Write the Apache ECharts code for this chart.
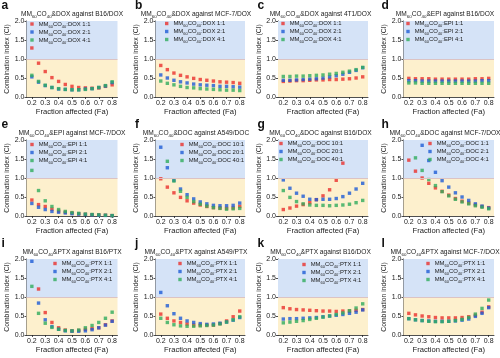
<!DOCTYPE html>
<html><head><meta charset="utf-8">
<script src="https://cdn.jsdelivr.net/npm/echarts@6/dist/echarts.min.js"></script>
<style>html,body{margin:0;padding:0;background:#fff}#c{width:500px;height:358px}</style>
</head><body><div id="c"></div>
<script>
// ---------- data ----------
const fa = [0.2, 0.25, 0.3, 0.35, 0.4, 0.45, 0.5, 0.55, 0.6, 0.65, 0.7, 0.75, 0.8];
const xTickValues = [0.2, 0.3, 0.4, 0.5, 0.6, 0.7, 0.8];
const panelLetters = ['a','b','c','d','e','f','g','h','i','j','k','l'];
const partnerDrugs = ['DOX','DOX','DOX','EPI','EPI','DOC','DOC','DOC','PTX','PTX','PTX','PTX'];
const targetCells = ['B16/DOX','MCF-7/DOX','4T1/DOX','B16/DOX','MCF-7/DOX','A549/DOC','B16/DOX','MCF-7/DOX','B16/PTX','A549/PTX','B16/DOX','MCF-7/DOX'];
const ratiosStd = ['1:1','2:1','4:1'];
const ratiosDoc = ['10:1','20:1','40:1'];

const ciA1 = [1.29, 0.89, 0.67, 0.51, 0.41, 0.33, 0.28, 0.25, 0.24, 0.23, 0.24, 0.28, 0.32];
const ciA2 = [0.53, 0.39, 0.30, 0.25, 0.21, 0.20, 0.19, 0.19, 0.21, 0.22, 0.25, 0.29, 0.38];
const ciA3 = [0.57, 0.41, 0.31, 0.25, 0.22, 0.20, 0.19, 0.19, 0.20, 0.22, 0.25, 0.30, 0.40];

const ciB1 = [0.83, 0.72, 0.63, 0.57, 0.53, 0.49, 0.46, 0.44, 0.42, 0.40, 0.39, 0.38, 0.36];
const ciB2 = [0.58, 0.50, 0.44, 0.40, 0.37, 0.34, 0.32, 0.31, 0.30, 0.28, 0.28, 0.27, 0.26];
const ciB3 = [0.42, 0.36, 0.32, 0.28, 0.25, 0.24, 0.22, 0.21, 0.20, 0.19, 0.18, 0.18, 0.17];

const ciC1 = [0.41, 0.42, 0.43, 0.43, 0.44, 0.45, 0.45, 0.46, 0.46, 0.47, 0.48, 0.50, 0.53];
const ciC2 = [0.44, 0.44, 0.45, 0.46, 0.47, 0.48, 0.50, 0.53, 0.56, 0.60, 0.65, 0.70, 0.77];
const ciC3 = [0.54, 0.54, 0.55, 0.55, 0.56, 0.57, 0.58, 0.60, 0.62, 0.65, 0.68, 0.72, 0.78];

const ciD1 = [0.49, 0.48, 0.48, 0.48, 0.47, 0.47, 0.47, 0.47, 0.47, 0.47, 0.48, 0.48, 0.49];
const ciD2 = [0.43, 0.43, 0.42, 0.42, 0.42, 0.42, 0.42, 0.42, 0.42, 0.42, 0.42, 0.43, 0.43];
const ciD3 = [0.37, 0.37, 0.36, 0.36, 0.36, 0.36, 0.36, 0.36, 0.36, 0.36, 0.36, 0.36, 0.36];

const ciE1 = [0.42, 0.30, 0.25, 0.18, 0.13, 0.10, 0.08, 0.06, 0.045, 0.035, 0.03, 0.02, 0.01];
const ciE2 = [0.33, 0.23, 0.17, 0.12, 0.10, 0.08, 0.06, 0.05, 0.04, 0.03, 0.02, 0.015, 0.01];
const ciE3 = [1.20, 0.67, 0.40, 0.25, 0.17, 0.12, 0.09, 0.07, 0.05, 0.04, 0.03, 0.02, 0.01];

const ciF1 = [0.98, 0.76, 0.61, 0.49, 0.40, 0.34, 0.29, 0.25, 0.22, 0.21, 0.20, 0.21, 0.25];
const ciF2 = [1.81, 1.27, 0.94, 0.71, 0.56, 0.45, 0.37, 0.32, 0.28, 0.27, 0.27, 0.28, 0.34];
const ciF3 = [null, 1.44, 0.92, 0.65, 0.49, 0.38, 0.31, 0.26, 0.22, 0.20, 0.18, 0.19, 0.20];

const ciG1 = [0.17, 0.21, 0.26, 0.30, 0.35, 0.43, 0.53, 0.69, 0.94, 1.39, null, null, null];
const ciG2 = [0.95, 0.73, 0.60, 0.52, 0.44, 0.43, 0.44, 0.44, 0.46, 0.51, 0.60, 0.71, 0.86];
const ciG3 = [0.67, 0.49, 0.38, 0.32, 0.29, 0.28, 0.28, 0.27, 0.28, 0.29, 0.31, 0.35, 0.41];

const ciH1 = [1.47, 1.18, 1.00, 0.86, 0.74, 0.65, 0.55, 0.46, 0.39, 0.34, 0.29, 0.25, 0.22];
const ciH2 = [null, null, 1.86, 1.46, 1.15, 0.93, 0.76, 0.61, 0.50, 0.41, 0.32, 0.26, 0.21];
const ciH3 = [null, 1.53, 1.20, 0.96, 0.80, 0.64, 0.53, 0.44, 0.37, 0.32, 0.27, 0.23, 0.19];

const ciI1 = [null, 1.21, 0.59, 0.33, 0.19, 0.13, 0.11, 0.12, 0.15, 0.17, 0.19, 0.27, 0.37];
const ciI2 = [1.94, 0.84, 0.40, 0.22, 0.15, 0.11, 0.10, 0.10, 0.11, 0.14, 0.19, 0.26, 0.36];
const ciI3 = [1.28, 0.57, 0.31, 0.20, 0.15, 0.12, 0.11, 0.13, 0.19, 0.25, 0.33, 0.44, 0.60];

const ciJ1 = [0.55, 0.44, 0.37, 0.33, 0.29, 0.26, 0.26, 0.26, 0.26, 0.30, 0.37, 0.48, 0.63];
const ciJ2 = [1.12, 0.77, 0.56, 0.44, 0.37, 0.33, 0.30, 0.28, 0.29, 0.31, 0.34, 0.39, 0.46];
const ciJ3 = [0.44, 0.33, 0.27, 0.24, 0.23, 0.23, 0.24, 0.25, 0.26, 0.29, 0.34, 0.40, 0.48];

const ciK1 = [0.72, 0.69, 0.67, 0.66, 0.65, 0.64, 0.63, 0.63, 0.62, 0.63, 0.63, 0.65, 0.67];
const ciK2 = [0.42, 0.43, 0.43, 0.44, 0.45, 0.46, 0.48, 0.50, 0.52, 0.54, 0.57, 0.60, 0.66];
const ciK3 = [0.32, 0.34, 0.36, 0.38, 0.41, 0.44, 0.47, 0.50, 0.54, 0.58, 0.64, 0.71, 0.82];

const ciL1 = [0.57, 0.53, 0.50, 0.48, 0.46, 0.45, 0.45, 0.45, 0.46, 0.48, 0.52, 0.60, 0.74];
const ciL2 = [0.43, 0.40, 0.38, 0.37, 0.36, 0.36, 0.36, 0.37, 0.39, 0.42, 0.49, 0.57, 0.72];
const ciL3 = [0.43, 0.40, 0.38, 0.36, 0.35, 0.35, 0.36, 0.38, 0.41, 0.46, 0.55, 0.70, 0.92];

const panelSeries = [
  [ciA1, ciA2, ciA3], [ciB1, ciB2, ciB3], [ciC1, ciC2, ciC3], [ciD1, ciD2, ciD3],
  [ciE1, ciE2, ciE3], [ciF1, ciF2, ciF3], [ciG1, ciG2, ciG3], [ciH1, ciH2, ciH3],
  [ciI1, ciI2, ciI3], [ciJ1, ciJ2, ciJ3], [ciK1, ciK2, ciK3], [ciL1, ciL2, ciL3]
];
const panelRatios = [ratiosStd, ratiosStd, ratiosStd, ratiosStd, ratiosStd, ratiosDoc, ratiosDoc, ratiosStd, ratiosStd, ratiosStd, ratiosStd, ratiosStd];

// ---------- layout / style ----------
const FONT = "'Liberation Sans', Arial, Helvetica, sans-serif";
const TXT = '#1a1a1a';
const COLORS = ['#ea2f2c', '#1d5bd6', '#2fab5c'];
const BG_HIGH = '#d5e3f7';
const BG_LOW = '#fdf0cd';
const colLeft = [26.5, 155.5, 278, 403.5];
const colRight = [117.5, 245, 368, 494];
const rowTop = [21, 140, 259];
const plotH = 76;
const yNameGap = [12, 10.5, 11, 10.5];
const letterX = [1.5, 135, 257.5, 381.5];
const titleCX = [72, 196, 320.5, 445];
const legendPos = [[32,25.5],[166.7,25],[283,25],[408,25],[32,146],[182,146],[281,145],[430,145],[55,265],[180,265],[304,266],[428,265]];

const grids = [], xAxes = [], yAxes = [], series = [], legends = [], graphics = [];
const axisLineStyle = { color: '#222', width: 0.8 };

for (let i = 0; i < 12; i++) {
  const r = Math.floor(i / 4), c = i % 4;
  grids.push({ left: colLeft[c], top: rowTop[r], width: colRight[c] - colLeft[c], height: plotH });
  xAxes.push({
    gridIndex: i, type: 'value', min: 0.16, max: 0.84,
    axisLine: { show: true, onZero: false, lineStyle: axisLineStyle },
    axisTick: { show: true, customValues: xTickValues, length: 2, lineStyle: axisLineStyle },
    axisLabel: { customValues: xTickValues, fontSize: 7, margin: 3, color: TXT, fontFamily: FONT, formatter: v => v.toFixed(1) },
    splitLine: { show: false },
    name: 'Fraction affected (Fa)', nameLocation: 'middle', nameGap: 10.5,
    nameTextStyle: { fontSize: 7.6, color: TXT, fontFamily: FONT }
  });
  yAxes.push({
    gridIndex: i, type: 'value', min: 0, max: 2, interval: 0.5,
    axisLine: { show: true, onZero: false, lineStyle: axisLineStyle },
    axisTick: { show: true, length: 2, lineStyle: axisLineStyle },
    axisLabel: { fontSize: 7, margin: 2, color: TXT, fontFamily: FONT, formatter: v => v.toFixed(1) },
    splitLine: { show: false },
    name: 'Combination index (CI)', nameLocation: 'middle', nameGap: yNameGap[c],
    nameTextStyle: { fontSize: 6.8, color: TXT, fontFamily: FONT }
  });
  // background bands
  series.push({
    type: 'scatter', xAxisIndex: i, yAxisIndex: i, data: [], z: -1, silent: true,
    markArea: { silent: true, data: [
      [{ yAxis: 1, itemStyle: { color: BG_HIGH } }, { yAxis: 2 }],
      [{ yAxis: 0, itemStyle: { color: BG_LOW } }, { yAxis: 1 }]
    ] },
    markLine: { silent: true, symbol: 'none', label: { show: false },
      lineStyle: { color: '#dcc3c3', width: 1.2, type: 'solid' }, data: [{ yAxis: 1 }] }
  });
  const names = panelRatios[i].map(rt => partnerDrugs[i] + ' ' + rt);
  panelSeries[i].forEach((arr, k) => {
    series.push({
      type: 'scatter', name: names[k], xAxisIndex: i, yAxisIndex: i,
      symbol: 'rect', symbolSize: 3.4, itemStyle: { color: COLORS[k] },
      data: fa.map((x, j) => [x, arr[j]]).filter(p => p[1] !== null)
    });
  });
  legends.push({
    orient: 'vertical', left: legendPos[i][0] - 1.7, top: legendPos[i][1] - 4.5,
    padding: 0, itemGap: 0.5, itemWidth: 3.4, itemHeight: 3.4, icon: 'rect',
    data: names, selectedMode: false,
    formatter: n => '{n|MM}{s|60}{n|CO}{s|40}{n|:' + n + '}',
    textStyle: { rich: {
      n: { fontSize: 5.9, lineHeight: 9, verticalAlign: 'middle', color: TXT, fontFamily: FONT },
      s: { fontSize: 4, lineHeight: 4.5, verticalAlign: 'bottom', color: TXT, fontFamily: FONT }
    } }
  });
  graphics.push({
    type: 'text', x: letterX[c], y: rowTop[r] - 15.7,
    style: { text: panelLetters[i], fontSize: 12, fontWeight: 'bold', fontFamily: FONT, fill: '#111', align: 'left', verticalAlign: 'middle' }
  });
  graphics.push({
    type: 'text', x: titleCX[c], y: rowTop[r] - 7,
    style: {
      text: '{n|MM}{s|60}{n|CO}{s|40}{n|&' + partnerDrugs[i] + ' against ' + targetCells[i] + '}',
      align: 'center', verticalAlign: 'middle',
      rich: {
        n: { fontSize: 6.6, lineHeight: 10, verticalAlign: 'middle', fill: TXT, fontFamily: FONT },
        s: { fontSize: 4.4, lineHeight: 5, verticalAlign: 'bottom', fill: TXT, fontFamily: FONT }
      }
    }
  });
}

const chart = echarts.init(document.getElementById('c'), null, { renderer: 'canvas' });
chart.setOption({
  animation: false,
  backgroundColor: '#fff',
  grid: grids, xAxis: xAxes, yAxis: yAxes, series: series, legend: legends, graphic: graphics
});
</script></body></html>
